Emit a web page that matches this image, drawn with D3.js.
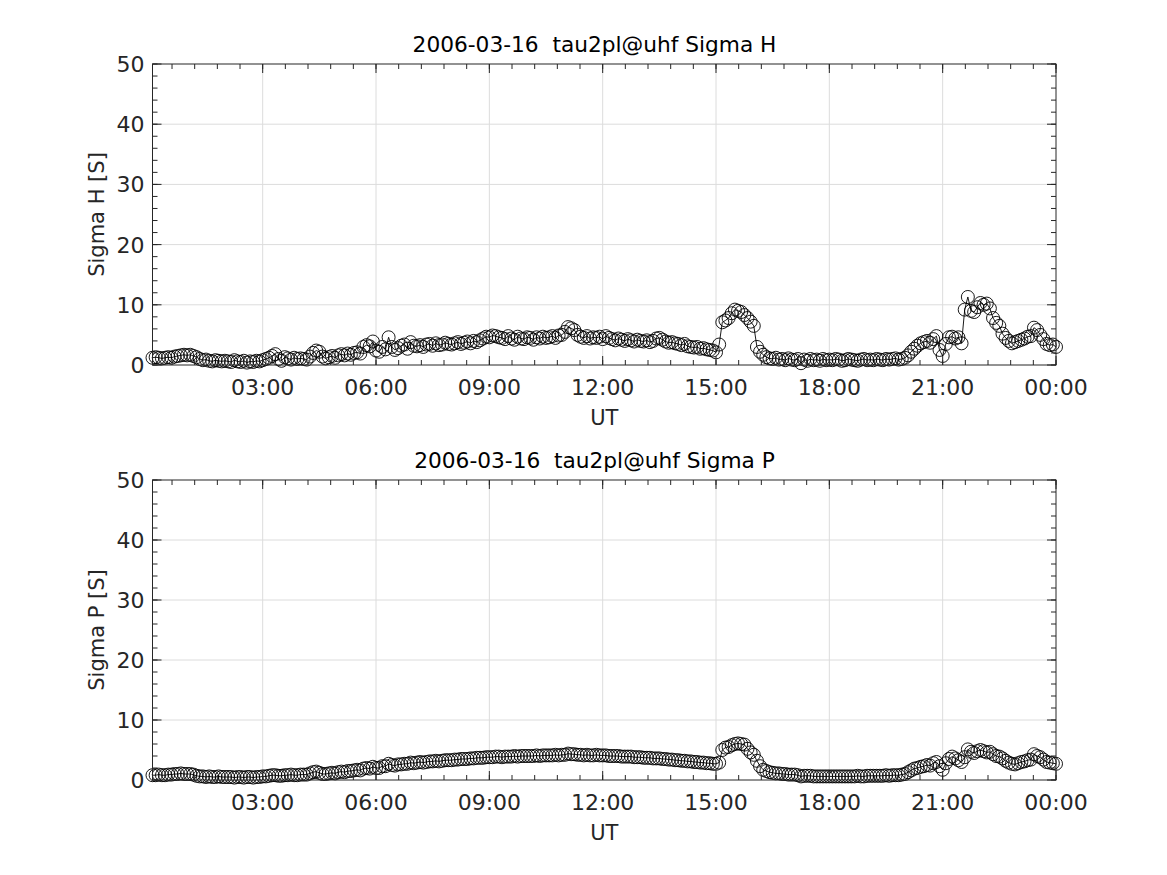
<!DOCTYPE html>
<html><head><meta charset="utf-8">
<script src="https://cdn.jsdelivr.net/npm/d3@7"></script>
<style>body{margin:0;background:#fff} text{white-space:pre}</style>
</head><body>
<svg id="c" width="1167" height="875"></svg>
<script>
// Sigma H [S], 5-minute samples from 00:05 to 24:00 UT
const sigmaH = [
1.2,1.3,1.2,1.1,1.2,1.3,1.2,1.4,1.5,1.6,1.7,1.6,
1.7,1.5,1.3,1.0,0.8,0.9,0.7,0.6,0.8,0.7,0.6,0.7,
0.6,0.5,0.8,0.6,0.5,0.7,0.4,0.6,0.5,0.7,0.6,0.8,
1.0,1.2,1.5,1.8,1.0,0.7,1.3,1.1,0.9,1.2,1.0,1.1,
1.0,0.9,1.4,2.0,2.4,2.2,1.4,1.1,1.3,1.5,1.2,1.6,
1.8,1.6,1.9,1.7,2.0,2.1,1.9,3.0,3.3,3.1,3.9,2.4,
2.2,3.0,2.6,4.6,3.0,2.5,2.8,3.2,3.4,2.7,3.8,3.2,
3.1,3.3,3.0,3.4,3.5,3.2,3.6,3.3,3.4,3.7,3.5,3.4,
3.6,3.8,3.5,3.7,3.9,3.6,4.0,3.8,4.1,4.4,4.7,4.6,
4.9,4.8,4.6,4.5,4.3,4.8,4.4,4.2,4.7,4.4,4.3,4.6,
4.5,4.2,4.6,4.4,4.7,4.5,4.6,4.8,4.5,4.9,5.0,5.5,
6.3,6.1,5.8,5.0,4.7,4.5,4.8,4.4,4.6,4.5,4.7,4.3,
4.8,4.5,4.3,4.1,4.4,4.2,4.0,4.3,4.1,3.9,4.2,4.0,
3.9,4.1,3.8,4.0,4.4,4.5,4.2,3.9,3.7,3.8,3.6,3.5,
3.3,3.5,3.1,3.0,2.9,3.0,2.7,2.8,2.6,2.5,2.4,2.1,
3.4,7.1,7.4,7.8,8.6,9.2,9.0,8.8,8.3,7.8,7.2,6.5,
3.0,2.2,1.7,1.3,1.1,1.0,1.2,0.9,1.0,0.8,1.1,0.9,
0.8,1.0,0.3,0.9,0.7,1.0,0.8,0.9,0.7,1.0,0.8,0.9,
0.8,1.0,0.9,0.7,0.8,1.0,0.9,0.8,0.7,0.9,1.0,0.8,
0.9,0.8,1.0,0.9,0.8,1.0,0.9,1.0,1.1,0.9,1.0,1.2,
1.6,2.2,2.7,3.2,3.6,3.8,4.0,3.7,4.3,4.8,2.5,1.5,
3.5,4.6,4.7,4.4,4.6,3.6,9.2,11.3,9.0,8.8,9.6,10.3,
10.0,10.2,9.4,7.8,7.0,6.5,5.2,4.5,4.0,3.6,3.8,4.0,
4.2,4.4,4.7,4.8,6.2,5.8,5.0,4.3,3.5,3.3,3.4,3.0
];
// Sigma P [S], same sampling
const sigmaP = [
0.8,0.8,0.9,0.8,0.8,0.9,0.9,1.0,1.0,1.1,1.0,1.0,
1.0,0.9,0.7,0.6,0.6,0.5,0.6,0.5,0.5,0.6,0.5,0.5,
0.5,0.5,0.4,0.5,0.5,0.4,0.5,0.5,0.4,0.5,0.5,0.6,
0.6,0.7,0.8,0.8,0.7,0.7,0.8,0.8,0.9,0.8,0.8,0.9,
0.9,0.9,1.1,1.3,1.4,1.2,1.0,1.0,1.1,1.2,1.1,1.3,
1.4,1.3,1.5,1.5,1.6,1.7,1.6,1.9,2.0,1.9,2.2,2.0,
2.0,2.3,2.3,2.7,2.5,2.4,2.6,2.6,2.7,2.7,2.9,2.8,
2.9,3.0,2.9,3.0,3.1,3.1,3.2,3.1,3.2,3.3,3.3,3.3,
3.4,3.4,3.5,3.5,3.5,3.6,3.6,3.7,3.7,3.7,3.8,3.8,
3.8,3.9,3.9,3.8,3.9,3.9,3.9,4.0,3.9,4.0,4.0,4.0,
4.0,4.0,4.1,4.0,4.1,4.1,4.1,4.1,4.2,4.1,4.2,4.2,
4.4,4.3,4.3,4.2,4.2,4.1,4.2,4.1,4.1,4.2,4.1,4.1,
4.1,4.0,4.0,4.0,4.0,3.9,3.9,3.9,3.9,3.8,3.8,3.8,
3.7,3.7,3.7,3.6,3.6,3.6,3.5,3.5,3.4,3.4,3.3,3.3,
3.2,3.2,3.1,3.1,3.0,3.0,2.9,2.9,2.8,2.8,2.7,2.7,
2.9,5.0,5.4,5.5,5.8,6.0,6.1,6.0,5.9,5.2,4.6,4.2,
3.2,2.3,1.7,1.5,1.3,1.2,1.1,1.1,1.0,1.0,0.9,0.9,
0.9,0.8,0.6,0.7,0.7,0.7,0.6,0.6,0.6,0.6,0.6,0.6,
0.6,0.6,0.6,0.6,0.6,0.6,0.6,0.6,0.7,0.6,0.6,0.7,
0.7,0.7,0.7,0.7,0.7,0.8,0.7,0.8,0.8,0.8,0.9,1.0,
1.3,1.6,1.9,2.0,2.2,2.3,2.5,2.4,2.8,3.0,2.3,1.7,
2.8,3.5,3.9,3.6,3.3,3.0,3.8,5.1,4.7,4.5,4.8,5.0,
4.8,4.6,4.7,4.3,4.0,3.9,3.6,3.2,2.9,2.7,2.6,2.8,
3.0,3.1,3.3,3.4,4.3,4.0,3.8,3.4,3.0,2.9,2.8,2.7
];
const sampleMinutes = 5;
const yTicks = [0, 10, 20, 30, 40, 50];
const yMinorStep = 2;
const xTickHours = [3, 6, 9, 12, 15, 18, 21, 24];
const xMinorMinutes = 36;
const titles = ["2006-03-16  tau2pl@uhf Sigma H", "2006-03-16  tau2pl@uhf Sigma P"];
const yLabels = ["Sigma H [S]", "Sigma P [S]"];
const xLabel = "UT";

const day = new Date(2006, 2, 16, 0, 0);
const timeAt = i => new Date(day.getTime() + (i + 1) * sampleMinutes * 60000);
const hour = h => new Date(day.getTime() + h * 3600000);

const svg = d3.select("#c");
const FONT = "DejaVu Sans";
const TXT = "#262626";
const left = 152.5, right = 1056;
const panels = [
  {data: sigmaH, top: 64, bottom: 365, title: titles[0], ylab: yLabels[0]},
  {data: sigmaP, top: 480, bottom: 780, title: titles[1], ylab: yLabels[1]}
];

panels.forEach(p => {
  const pts = p.data.map((v, i) => ({t: timeAt(i), v}));
  const x = d3.scaleTime().domain([pts[0].t, pts[pts.length - 1].t]).range([left, right]);
  const y = d3.scaleLinear().domain([0, 50]).range([p.bottom, p.top]);
  const g = svg.append("g");
  const [d0, d1] = x.domain();

  const major = xTickHours.map(hour);
  const minor = d3.range(0, 24 * 60 + 1, xMinorMinutes)
    .map(m => new Date(day.getTime() + m * 60000))
    .filter(d => d >= d0 && d <= d1);
  const yMinor = d3.range(0, 50 + 0.001, yMinorStep);

  // grid
  g.selectAll(".gx").data(major.filter(d => d < d1)).join("line")
    .attr("x1", d => x(d)).attr("x2", d => x(d)).attr("y1", p.top).attr("y2", p.bottom)
    .attr("stroke", "#dcdcdc").attr("stroke-width", 1);
  g.selectAll(".gy").data(yTicks.slice(1, -1)).join("line")
    .attr("x1", left).attr("x2", right).attr("y1", d => y(d)).attr("y2", d => y(d))
    .attr("stroke", "#dcdcdc").attr("stroke-width", 1);

  // data
  g.append("path").datum(pts)
    .attr("d", d3.line().x(d => x(d.t)).y(d => y(d.v)))
    .attr("fill", "none").attr("stroke", "#000").attr("stroke-width", 0.9);
  g.selectAll(".pt").data(pts).join("circle")
    .attr("cx", d => x(d.t)).attr("cy", d => y(d.v)).attr("r", 6.5)
    .attr("fill", "none").attr("stroke", "#000").attr("stroke-width", 0.9);

  // ticks (inward, all four sides)
  const tk = g.append("g").attr("stroke", TXT).attr("stroke-width", 1);
  const addX = (arr, len) => arr.forEach(d => {
    tk.append("line").attr("x1", x(d)).attr("x2", x(d)).attr("y1", p.bottom).attr("y2", p.bottom - len);
    tk.append("line").attr("x1", x(d)).attr("x2", x(d)).attr("y1", p.top).attr("y2", p.top + len);
  });
  addX(minor, 5); addX(major, 9);
  const addY = (arr, len) => arr.forEach(v => {
    tk.append("line").attr("x1", left).attr("x2", left + len).attr("y1", y(v)).attr("y2", y(v));
    tk.append("line").attr("x1", right).attr("x2", right - len).attr("y1", y(v)).attr("y2", y(v));
  });
  addY(yMinor, 5); addY(yTicks, 9);

  // box
  g.append("rect").attr("x", left).attr("y", p.top).attr("width", right - left).attr("height", p.bottom - p.top)
    .attr("fill", "none").attr("stroke", TXT).attr("stroke-width", 1);

  // tick labels
  const fmt = d3.timeFormat("%H:%M");
  g.selectAll(".xl").data(major).join("text")
    .attr("x", d => x(d)).attr("y", p.bottom + 30).attr("text-anchor", "middle")
    .attr("font-family", FONT).attr("font-size", 22).attr("fill", TXT).text(d => fmt(d));
  g.selectAll(".yl").data(yTicks).join("text")
    .attr("x", left - 8).attr("y", d => y(d)).attr("dy", "0.36em").attr("text-anchor", "end")
    .attr("font-family", FONT).attr("font-size", 22).attr("fill", TXT).text(d => d);

  // labels
  g.append("text").attr("x", (left + right) / 2).attr("y", p.bottom + 60).attr("text-anchor", "middle")
    .attr("font-family", FONT).attr("font-size", 21).attr("fill", TXT).text(xLabel);
  g.append("text").attr("transform", `translate(104,${(p.top + p.bottom) / 2}) rotate(-90)`)
    .attr("text-anchor", "middle").attr("font-family", FONT).attr("font-size", 21).attr("fill", TXT).text(p.ylab);
  g.append("text").attr("x", 594.5).attr("y", p.top - 12).attr("text-anchor", "middle")
    .attr("font-family", FONT).attr("font-size", 21.7).attr("fill", "#000").text(p.title);
});
</script>
</body></html>
